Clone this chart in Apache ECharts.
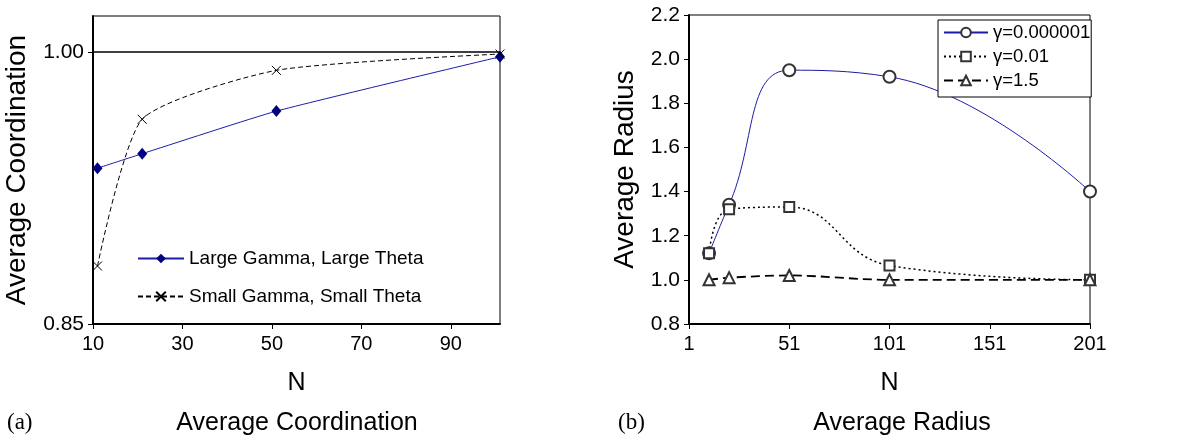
<!DOCTYPE html>
<html>
<head>
<meta charset="utf-8">
<script src="https://cdn.jsdelivr.net/npm/echarts@6/dist/echarts.min.js"></script>
<style>
  html, body { margin: 0; padding: 0; background: #fff; }
  #main { width: 1183px; height: 441px; }
</style>
</head>
<body>
<div id="main"></div>
<script>
// (a) average coordination
const coordN = [11, 21, 51, 101];
const largeGammaLargeTheta = [0.936, 0.944, 0.9675, 0.9975];
const smallGammaSmallTheta = [0.882, 0.963, 0.990, 0.999];
const coordXTicks = [10, 30, 50, 70, 90];
const coordYTicks = [0.85, 1.00];

// (b) average radius
const radiusN = [11, 21, 51, 101, 201];
const gammaTiny = [1.12, 1.34, 1.95, 1.92, 1.40];
const gammaSmall = [1.12, 1.32, 1.33, 1.065, 1.00];
const gammaLarge = [1.00, 1.01, 1.02, 1.00, 1.00];
const radiusXTicks = [1, 51, 101, 151, 201];

const FONT = 'Liberation Sans';
const pairs = (xs, ys) => xs.map((x, i) => [x, ys[i]]);

const chart = echarts.init(document.getElementById('main'), null, { renderer: 'canvas' });

const axisCommon = {
  axisLine: { show: true, onZero: false, lineStyle: { color: '#000', width: 2 } },
  axisTick: { show: true, inside: false, length: 5, lineStyle: { color: '#000' } },
  axisLabel: { color: '#000', fontFamily: FONT, fontSize: 20 },
  splitLine: { show: false },
  nameTextStyle: { color: '#000', fontFamily: FONT },
  nameLocation: 'middle'
};

var option = {
  backgroundColor: '#ffffff',
  animation: false,
  grid: [
    { left: 93, right: 683, top: 16, bottom: 117, show: true, borderColor: '#000', borderWidth: 1, backgroundColor: '#fff' },
    { left: 689, right: 93, top: 15, bottom: 117, show: true, borderColor: '#000', borderWidth: 1, backgroundColor: '#fff' }
  ],
  xAxis: [
    Object.assign({}, axisCommon, {
      gridIndex: 0, type: 'value', min: 10, max: 101,
      name: 'N', nameGap: 47, nameTextStyle: { color: '#000', fontFamily: FONT, fontSize: 25 },
      axisTick: { show: true, length: 5, customValues: coordXTicks, lineStyle: { color: '#000' } },
      axisLabel: { color: '#000', fontFamily: FONT, fontSize: 20, margin: 10, customValues: coordXTicks }
    }),
    Object.assign({}, axisCommon, {
      gridIndex: 1, type: 'value', min: 1, max: 201,
      name: 'N', nameGap: 47, nameTextStyle: { color: '#000', fontFamily: FONT, fontSize: 25 },
      axisTick: { show: true, length: 5, customValues: radiusXTicks, lineStyle: { color: '#000' } },
      axisLabel: { color: '#000', fontFamily: FONT, fontSize: 20, margin: 10, customValues: radiusXTicks }
    })
  ],
  yAxis: [
    Object.assign({}, axisCommon, {
      gridIndex: 0, type: 'value', min: 0.85, max: 1.02,
      name: 'Average Coordination', nameGap: 62, nameTextStyle: { color: '#000', fontFamily: FONT, fontSize: 28 },
      axisTick: { show: true, length: 5, customValues: coordYTicks, lineStyle: { color: '#000' } },
      axisLabel: { color: '#000', fontFamily: FONT, fontSize: 21, margin: 9, customValues: coordYTicks,
        formatter: v => v.toFixed(2) }
    }),
    Object.assign({}, axisCommon, {
      gridIndex: 1, type: 'value', min: 0.8, max: 2.2, interval: 0.2,
      name: 'Average Radius', nameGap: 50, nameTextStyle: { color: '#000', fontFamily: FONT, fontSize: 28 },
      axisLabel: { color: '#000', fontFamily: FONT, fontSize: 21, margin: 9, formatter: v => v.toFixed(1) }
    })
  ],
  legend: [
    {
      data: ['Large Gamma, Large Theta', 'Small Gamma, Small Theta'],
      orient: 'vertical', left: 132, top: 244, itemGap: 19,
      itemWidth: 46, itemHeight: 12,
      textStyle: { color: '#000', fontFamily: FONT, fontSize: 19 }
    },
    {
      data: ['γ=0.000001', 'γ=0.01', 'γ=1.5'],
      orient: 'vertical', left: 938, top: 20, itemGap: 5,
      padding: [3, 1, 7, 5],
      itemWidth: 44, itemHeight: 12,
      backgroundColor: '#fff', borderColor: '#000', borderWidth: 1,
      textStyle: { color: '#000', fontFamily: FONT, fontSize: 18.5 }
    }
  ],
  graphic: [
    { type: 'text', x: 7, y: 423, style: { text: '(a)', font: '23px "Liberation Serif"', fill: '#000', verticalAlign: 'middle' } },
    { type: 'text', x: 297, y: 423, style: { text: 'Average Coordination', font: '25px "Liberation Sans"', fill: '#000', align: 'center', verticalAlign: 'middle' } },
    { type: 'text', x: 618, y: 423, style: { text: '(b)', font: '23px "Liberation Serif"', fill: '#000', verticalAlign: 'middle' } },
    { type: 'text', x: 902, y: 423, style: { text: 'Average Radius', font: '25px "Liberation Sans"', fill: '#000', align: 'center', verticalAlign: 'middle' } }
  ],
  series: [
    {
      name: 'Large Gamma, Large Theta', type: 'line', xAxisIndex: 0, yAxisIndex: 0,
      data: pairs(coordN, largeGammaLargeTheta), smooth: 0.15,
      symbol: 'diamond', symbolSize: [10, 12],
      lineStyle: { color: '#1c1ca8', width: 1 },
      itemStyle: { color: '#000080' },
      markLine: {
        silent: true, symbol: 'none', label: { show: false },
        lineStyle: { color: '#000', type: 'solid', width: 1.5 },
        data: [{ yAxis: 1.0 }]
      },
      z: 3
    },
    {
      name: 'Small Gamma, Small Theta', type: 'line', xAxisIndex: 0, yAxisIndex: 0,
      data: pairs(coordN, smallGammaSmallTheta), smooth: 0.2,
      symbol: 'path://M0,0L10,10M10,0L0,10', symbolSize: 9,
      lineStyle: { color: '#000', width: 1, type: [5, 3] },
      itemStyle: { color: 'none', borderColor: '#000', borderWidth: 1 }
    },
    {
      name: 'γ=0.000001', type: 'line', xAxisIndex: 1, yAxisIndex: 1,
      data: pairs(radiusN, gammaTiny), smooth: 0.45,
      symbol: 'emptyCircle', symbolSize: 12,
      lineStyle: { color: '#1c1ca8', width: 1 },
      itemStyle: { color: '#333', borderWidth: 1 },
      z: 3
    },
    {
      name: 'γ=0.01', type: 'line', xAxisIndex: 1, yAxisIndex: 1,
      data: pairs(radiusN, gammaSmall), smooth: 0.45,
      symbol: 'emptyRect', symbolSize: 10,
      lineStyle: { color: '#000', width: 1.5, type: [2, 3] },
      itemStyle: { color: '#333', borderWidth: 1 }
    },
    {
      name: 'γ=1.5', type: 'line', xAxisIndex: 1, yAxisIndex: 1,
      data: pairs(radiusN, gammaLarge), smooth: 0.3,
      symbol: 'emptyTriangle', symbolSize: 11,
      lineStyle: { color: '#000', width: 1.8, type: [9, 5] },
      itemStyle: { color: '#333', borderWidth: 1 }
    }
  ]
};

chart.setOption(option);
</script>
</body>
</html>
